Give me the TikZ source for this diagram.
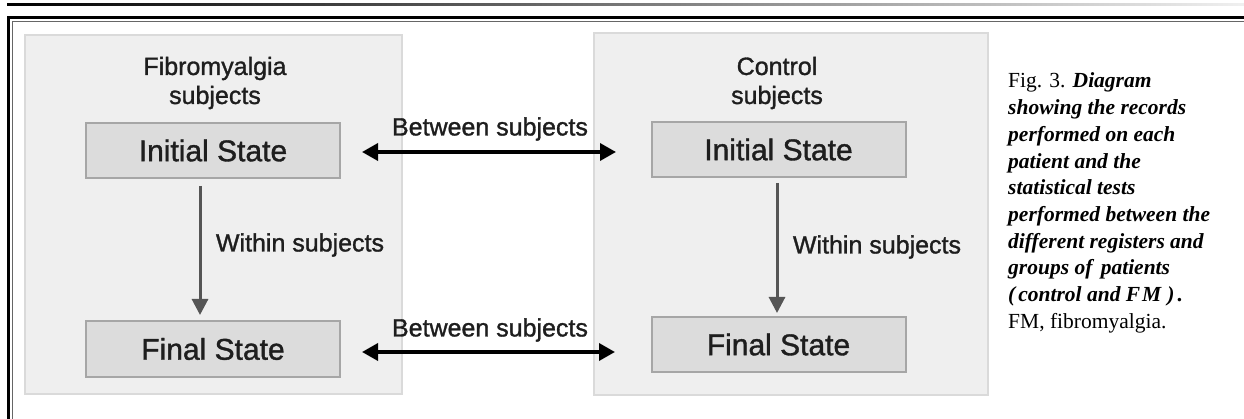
\documentclass[tikz,border=0pt]{standalone}
\usepackage{fontspec}
\setmainfont{Liberation Serif}
\newfontfamily\diagfont[FakeBold=1.2]{Liberation Sans}
\usetikzlibrary{arrows.meta}
\definecolor{panelfill}{HTML}{EFEFEF}
\definecolor{panelborder}{HTML}{DADADA}
\definecolor{boxfill}{HTML}{DCDCDC}
\definecolor{boxborder}{HTML}{A6A6A6}
\definecolor{textdark}{HTML}{1E1E1E}
\definecolor{arrowgray}{HTML}{555555}
\definecolor{framegray}{HTML}{666666}
\tikzset{
  panel/.style={draw=panelborder, fill=panelfill, line width=1.5pt, inner sep=0pt},
  statebox/.style={draw=boxborder, fill=boxfill, line width=2pt, minimum width=254pt, minimum height=55pt, inner sep=0pt,
    font=\diagfont\fontsize{30}{36}\selectfont, text=textdark},
  lbl/.style={font=\diagfont\fontsize{25}{30}\selectfont, text=textdark, inner sep=0pt},
  titlelbl/.style={font=\diagfont\fontsize{25}{29}\selectfont, text=textdark, align=center, inner sep=0pt},
  between/.style={draw=black, line width=3.5pt, {Triangle[length=16pt,width=17pt]}-{Triangle[length=16pt,width=17pt]}},
  within/.style={draw=arrowgray, line width=3pt, -{Triangle[length=16pt,width=16pt]}},
  captext/.style={anchor=base west, inner sep=0pt, font=\fontsize{21.5}{26}\selectfont},
}
\begin{document}
\begin{tikzpicture}[x=1pt,y=-1pt]
\useasboundingbox (0,0) rectangle (1244,419);
\fill[white] (0,0) rectangle (1244,419);
% top gradient rule
\shade[left color=black, right color=gray!12] (7,3.4) rectangle (1244,5.8);
% frame
\draw[line width=3pt] (8.5,419) -- (8.5,17.5) -- (1244,17.5);
\draw[line width=1pt, framegray] (12,419) -- (12,21.5) -- (1244,21.5);
% panels
\node[panel, minimum width=377pt, minimum height=359pt] (pl) at (213.5,214.5) {};
\node[panel, minimum width=394pt, minimum height=362pt] (pr) at (791,214) {};
% titles
\node[titlelbl] (tl) at (215,83) {Fibromyalgia\\subjects};
\node[titlelbl] (tr) at (777,83) {Control\\subjects};
% state boxes
\node[statebox] (li) at (213,150.5) {Initial State};
\node[statebox] (lf) at (213,349) {Final State};
\node[statebox] (ri) at (778.5,149.5) {Initial State};
\node[statebox] (rf) at (778.5,344.5) {Final State};
% connector end points
\coordinate (bt1) at (362,152);
\coordinate (bt2) at (616,152);
\coordinate (bb1) at (362,352);
\coordinate (bb2) at (615,352);
\coordinate (wl1) at (200,186);
\coordinate (wl2) at (200,315);
\coordinate (wr1) at (777,183);
\coordinate (wr2) at (777,313);
% arrows
\draw[between] (bt1) -- (bt2);
\draw[between] (bb1) -- (bb2);
\draw[within] (wl1) -- (wl2);
\draw[within] (wr1) -- (wr2);
% labels
\node[lbl] (btl) at (490,129) {Between subjects};
\node[lbl] (bbl) at (490,330) {Between subjects};
\node[lbl] (wll) at (300,245) {Within subjects};
\node[lbl] (wrl) at (877,247) {Within subjects};
% caption
\node[captext] (c1) at (1008,88) {Fig. 3. {\bfseries\itshape Diagram}};
\node[captext] (c2) at (1008,114.7) {\bfseries\itshape showing the records};
\node[captext] (c3) at (1008,141.4) {\bfseries\itshape performed on each};
\node[captext] (c4) at (1008,168.1) {\bfseries\itshape patient and the};
\node[captext] (c5) at (1008,194.8) {\bfseries\itshape statistical tests};
\node[captext] (c6) at (1008,221.5) {\bfseries\itshape performed between the};
\node[captext] (c7) at (1008,248.2) {\bfseries\itshape different registers and};
\node[captext] (c8) at (1008,274.9) {\bfseries\itshape groups of\kern3pt{} patients};
\node[captext] (c9) at (1008,301.6) {\bfseries\itshape (\kern3pt control and F\kern2pt M\kern6pt)\kern3pt.};
\node[captext] (c10) at (1008,328.3) {FM, fibromyalgia.};
\end{tikzpicture}
\end{document}
